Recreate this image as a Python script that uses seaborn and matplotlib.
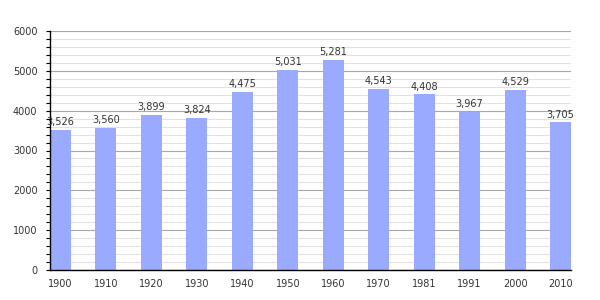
import matplotlib
matplotlib.use("Agg")
import matplotlib.pyplot as plt
import seaborn as sns
import pandas as pd
from matplotlib.ticker import MultipleLocator

years = ["1900", "1910", "1920", "1930", "1940", "1950", "1960", "1970", "1981", "1991", "2000", "2010"]
population = [3526, 3560, 3899, 3824, 4475, 5031, 5281, 4543, 4408, 3967, 4529, 3705]

df = pd.DataFrame({"year": years, "population": population})

sns.set_style("white")
plt.rcParams['font.family'] = ['DejaVu Sans']

fig = plt.figure(figsize=(6, 3), dpi=100)
ax = fig.add_axes([50/600, 30/300, 521/600, 239/300])

width = 0.46
sns.barplot(data=df, x="year", y="population", color="#99aaff", saturation=1,
            width=width, ax=ax, zorder=3, linewidth=0, edgecolor="none")

ax.set_ylim(0, 6000)
ax.set_xlim(-width/2, len(years) - 1 + width/2)
ax.yaxis.set_major_locator(MultipleLocator(1000))
ax.yaxis.set_minor_locator(MultipleLocator(200))
ax.grid(axis="y", which="minor", color="#e2e2e2", linewidth=0.8, zorder=0)
ax.grid(axis="y", which="major", color="#a8a8a8", linewidth=0.8, zorder=0)
ax.set_axisbelow(True)

for s in ["top", "right"]:
    ax.spines[s].set_visible(False)
for s in ["left", "bottom"]:
    ax.spines[s].set_color("black")
    ax.spines[s].set_linewidth(1)
    ax.spines[s].set_zorder(5)

ax.tick_params(axis="y", which="both", left=True, direction="out", length=3, width=0.8,
               color="black", labelsize=7, labelcolor="#333333", pad=6)
ax.tick_params(axis="x", which="both", bottom=False, labelsize=7, labelcolor="#333333", pad=3)

ax.set_xlabel("")
ax.set_ylabel("")

for i, v in enumerate(population):
    ax.text(i, v + 70, f"{v:,}", ha="center", va="bottom", fontsize=7, color="#333333", zorder=6)

fig.savefig("out.png", dpi=100)
